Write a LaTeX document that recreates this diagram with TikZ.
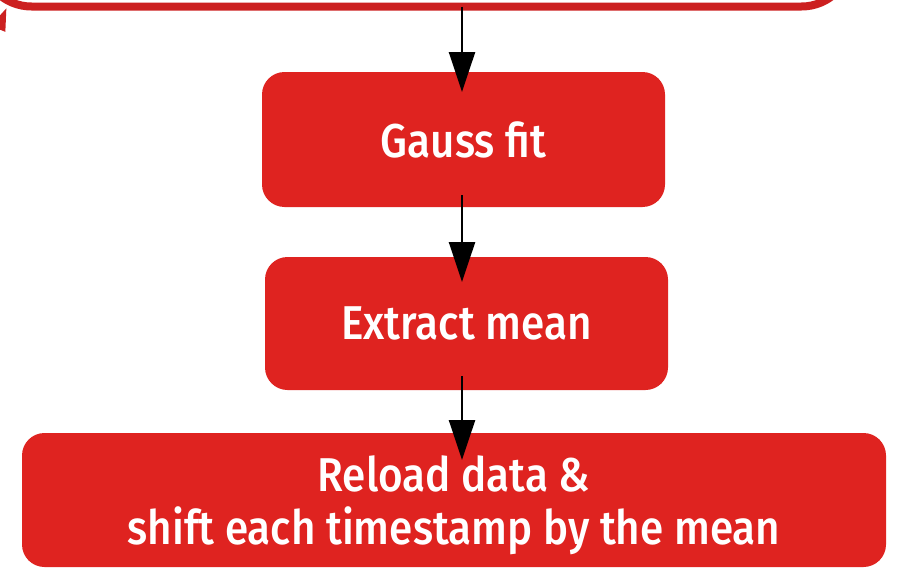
\documentclass[tikz,border=0pt]{standalone}
\usepackage{fontspec}
\newfontfamily\boxfont{Fira Sans}[UprightFont={* Medium}, FakeStretch=0.89]
\usepackage{xcolor}
\definecolor{boxred}{RGB}{223,35,32}
\definecolor{edgered}{RGB}{204,32,32}
\usetikzlibrary{positioning, calc, arrows.meta}
\tikzstyle{Block} = [
rectangle,
rounded corners=0.45cm,
fill=boxred,
text=white,
font=\boxfont\fontsize{27}{30}\selectfont,
align=center,
inner sep=0pt, outer sep=0pt,
minimum width=8.06cm, minimum height=2.7cm]
\tikzstyle{Arrow} = [
line width=1.4pt,
-{Triangle[length=0.8cm, width=0.52cm]}]
\tikzstyle{ArrowRed} = [
line width=2pt,
edgered,
-{Triangle[length=0.45cm, width=0.3cm]}]

\begin{document}
\begin{tikzpicture}
    \useasboundingbox (0,0) rectangle (18.32,11.36);
    \clip (0,0) rectangle (18.32,11.36);
    \node [Block, fill=none, draw=edgered, line width=0.16cm, rounded corners=1cm,
           minimum width=17.4cm, minimum height=3cm, anchor=south] (load) at (8.33,11.23) {};
    \node [Block] (gauss) at (9.27,8.57) {Gauss fit};
    \node [Block, below=1cm of gauss, xshift=0.06cm, minimum height=2.66cm] (extract) {Extract mean};
    \node [Block, below=0.86cm of extract, xshift=-0.25cm, text depth=0pt,
           minimum width=17.28cm, minimum height=2.68cm] (reload)
          {Reload data \&\\shift each timestamp by the mean};

    \coordinate (axis) at (9.24,0);
    \coordinate (back) at (-0.2,10.4);

    \draw[Arrow] (load.south -| axis) -- ([yshift=-0.4cm]gauss.north -| axis);
    \draw[Arrow] ([yshift=0.24cm]gauss.south -| axis) -- ([yshift=-0.5cm]extract.north -| axis);
    \draw[Arrow] ([yshift=0.28cm]extract.south -| axis) -- ([yshift=-0.54cm]reload.north -| axis);
    \draw[ArrowRed] (back) -- (0.13,11.2);
\end{tikzpicture}
\end{document}
